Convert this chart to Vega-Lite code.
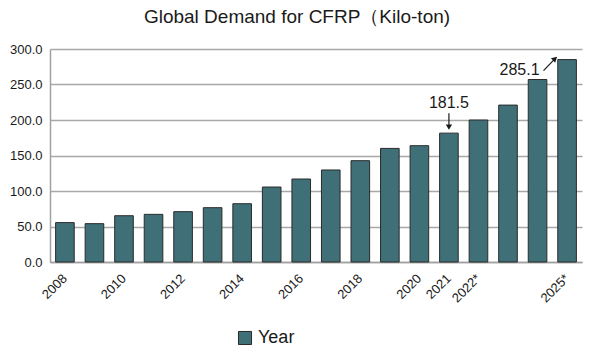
{
  "$schema": "https://vega.github.io/schema/vega-lite/v6.json",
  "width": 532,
  "height": 213,
  "autosize": "none",
  "padding": {"left": 50, "top": 49, "right": 11, "bottom": 96},
  "config": {
    "font": "Liberation Sans",
    "view": {"stroke": null}
  },
  "title": {
    "text": "Global Demand for CFRP（Kilo-ton)",
    "fontSize": 19,
    "fontWeight": "normal",
    "color": "#1a1a1a",
    "anchor": "middle",
    "dx": -19,
    "offset": 16
  },
  "datasets": {
    "demand": [
      {"year": "2008", "value": 55.5, "series": "Year"},
      {"year": "2009", "value": 54.0, "series": "Year"},
      {"year": "2010", "value": 65.2, "series": "Year"},
      {"year": "2011", "value": 67.1, "series": "Year"},
      {"year": "2012", "value": 70.9, "series": "Year"},
      {"year": "2013", "value": 76.5, "series": "Year"},
      {"year": "2014", "value": 82.1, "series": "Year"},
      {"year": "2015", "value": 105.6, "series": "Year"},
      {"year": "2016", "value": 116.9, "series": "Year"},
      {"year": "2017", "value": 129.6, "series": "Year"},
      {"year": "2018", "value": 142.7, "series": "Year"},
      {"year": "2019", "value": 160.0, "series": "Year"},
      {"year": "2020", "value": 163.8, "series": "Year"},
      {"year": "2021", "value": 181.5, "series": "Year"},
      {"year": "2022*", "value": 200.0, "series": "Year"},
      {"year": "2023*", "value": 221.0, "series": "Year"},
      {"year": "2024*", "value": 257.0, "series": "Year"},
      {"year": "2025*", "value": 285.1, "series": "Year"}
    ],
    "notes": [
      {"year": "2021", "from": "2021", "value": 181.5, "label": "181.5"},
      {"year": "2025*", "from": "2024*", "value": 285.1, "label": "285.1"}
    ]
  },
  "encoding": {
    "x": {
      "field": "year",
      "type": "nominal",
      "sort": null,
      "scale": {"paddingInner": 0.37, "paddingOuter": 0.19},
      "axis": {
        "title": null,
        "labelAngle": -45,
        "labelAlign": "right",
        "labelBaseline": "middle",
        "labelOverlap": false,
        "labelFontSize": 13,
        "labelColor": "#1a1a1a",
        "ticks": false,
        "labelPadding": 14,
        "domainColor": "#a0a0a0",
        "domainWidth": 1.5,
        "labelExpr": "indexof(['2008','2010','2012','2014','2016','2018','2020','2021','2022*','2025*'], datum.value) >= 0 ? datum.value : ''"
      }
    },
    "y": {
      "field": "value",
      "type": "quantitative",
      "scale": {"domain": [0, 300]},
      "axis": {
        "title": null,
        "values": [0, 50, 100, 150, 200, 250, 300],
        "format": ".1f",
        "labelOverlap": false,
        "labelFontSize": 13,
        "labelColor": "#1a1a1a",
        "ticks": false,
        "labelPadding": 8,
        "gridColor": "#a8a8a8",
        "gridWidth": 1.5,
        "domainColor": "#a0a0a0",
        "domainWidth": 1.5
      }
    }
  },
  "layer": [
    {
      "data": {"name": "demand"},
      "mark": {"type": "bar", "stroke": "#2a2a2a", "strokeWidth": 1},
      "encoding": {
        "color": {
          "field": "series",
          "type": "nominal",
          "scale": {"range": ["#3f7077"]},
          "legend": {
            "title": null,
            "orient": "none",
            "legendX": 186,
            "legendY": 280,
            "symbolType": "square",
            "symbolSize": 170,
            "symbolStrokeColor": "#2a2a2a",
            "symbolStrokeWidth": 1,
            "labelFontSize": 18,
            "labelColor": "#1a1a1a",
            "labelOffset": 4
          }
        }
      }
    },
    {
      "data": {"name": "notes"},
      "transform": [{"filter": "datum.label == '181.5'"}],
      "mark": {"type": "text", "fontSize": 16, "color": "#1a1a1a", "baseline": "middle", "align": "center", "yOffset": -30},
      "encoding": {
        "text": {"field": "label"}
      }
    },
    {
      "data": {"name": "notes"},
      "transform": [{"filter": "datum.label == '285.1'"}],
      "mark": {"type": "text", "fontSize": 16, "color": "#1a1a1a", "baseline": "middle", "align": "right", "xOffset": 2, "yOffset": 10},
      "encoding": {
        "x": {"field": "from", "type": "nominal", "sort": null},
        "text": {"field": "label"}
      }
    },
    {
      "data": {"name": "notes"},
      "transform": [{"filter": "datum.label == '181.5'"}],
      "mark": {"type": "rule", "color": "#1a1a1a", "strokeWidth": 1.2, "yOffset": -20, "y2Offset": -6},
      "encoding": {
        "y2": {"field": "value"}
      }
    },
    {
      "data": {"name": "notes"},
      "transform": [{"filter": "datum.label == '181.5'"}],
      "mark": {"type": "point", "shape": "triangle-down", "filled": true, "color": "#1a1a1a", "size": 40, "opacity": 1, "yOffset": -6},
      "encoding": {}
    },
    {
      "data": {"name": "notes"},
      "transform": [{"filter": "datum.label == '285.1'"}],
      "mark": {"type": "rule", "color": "#1a1a1a", "strokeWidth": 1.2, "xOffset": 6, "x2Offset": -13, "yOffset": 11, "y2Offset": 0},
      "encoding": {
        "x": {"field": "from", "type": "nominal", "sort": null},
        "x2": {"field": "year"},
        "y2": {"field": "value"}
      }
    },
    {
      "data": {"name": "notes"},
      "transform": [{"filter": "datum.label == '285.1'"}],
      "mark": {"type": "point", "shape": "triangle-up", "filled": true, "color": "#1a1a1a", "size": 40, "opacity": 1, "angle": 47, "xOffset": -12, "yOffset": -1},
      "encoding": {}
    }
  ]
}
